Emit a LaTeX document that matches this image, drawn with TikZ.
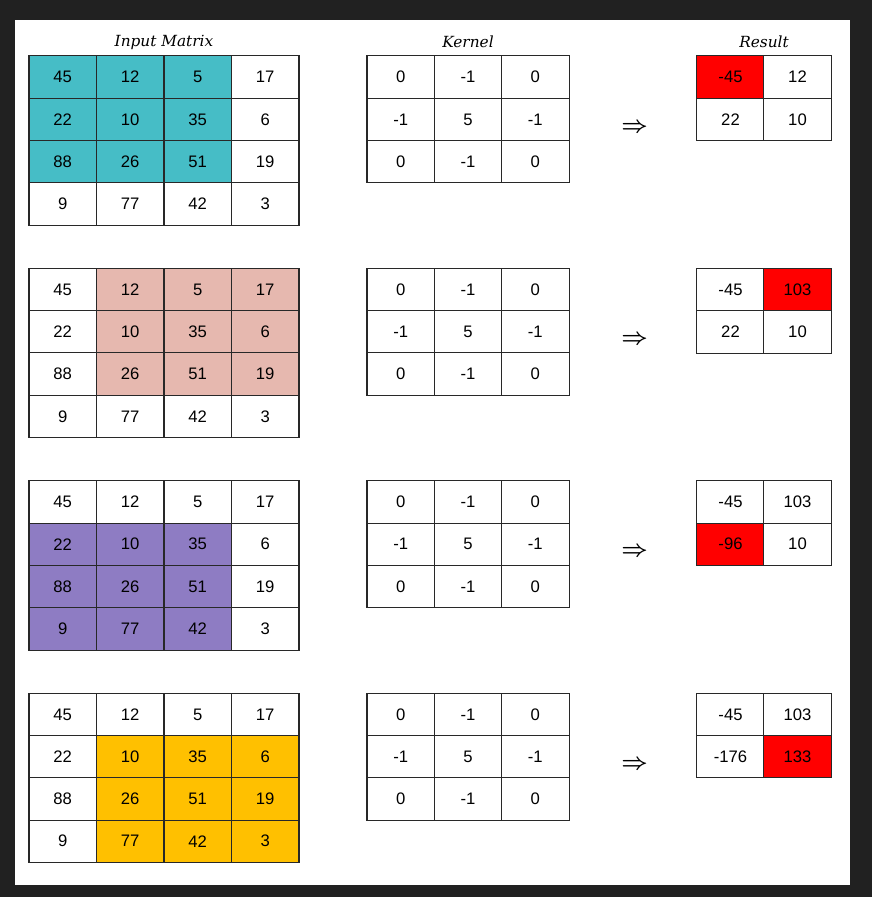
\documentclass[tikz,border=0pt]{standalone}
\usepackage{fontspec}
\setmainfont{DejaVu Serif}
\setsansfont{Liberation Sans}
\usetikzlibrary{positioning}
\definecolor{framebg}{RGB}{33,33,33}
\definecolor{gridline}{RGB}{40,40,40}
\definecolor{tealwin}{RGB}{70,189,198}
\definecolor{pinkwin}{RGB}{230,184,175}
\definecolor{purplewin}{RGB}{142,124,195}
\definecolor{amberwin}{RGB}{255,192,0}
\definecolor{hitred}{RGB}{255,0,0}

\begin{document}
\begin{tikzpicture}[
  x=0.75pt, y=-0.75pt,
  cell/.style={draw=gridline, line width=0.8pt, minimum width=50.6pt,
               minimum height=31.8pt, inner sep=0pt, anchor=center,
               font=\sffamily\fontsize{12.5}{14}\selectfont},
  title/.style={font=\itshape\fontsize{11.5}{13}\selectfont},
  implies/.style={font=\fontsize{18.5}{20}\selectfont\boldmath}
]
% frame and page
\fill[framebg] (0,0) rectangle (872,897);
\fill[white] (15,20) rectangle (850,885);
\useasboundingbox (0,0) rectangle (872,897);

% column titles
\node[title] (t-in)  at (164,42) {Input Matrix};
\node[title] (t-ker) at (468,42) {Kernel};
\node[title] (t-res) at (764,42) {Result};

% one row of the figure per step of the window
\foreach \b/\fc/\ro/\co/\res in {0/tealwin/0/0/{-45,12,22,10},
                                 1/pinkwin/0/1/{-45,103,22,10},
                                 2/purplewin/1/0/{-45,103,-96,10},
                                 3/amberwin/1/1/{-45,103,-176,133}} {
  \pgfmathsetmacro\top{56+212.4*\b}
  % input matrix with the window filled
  \foreach \v [count=\i from 0] in {45,12,5,17,22,10,35,6,88,26,51,19,9,77,42,3} {
    \pgfmathtruncatemacro\r{div(\i,4)}
    \pgfmathtruncatemacro\c{mod(\i,4)}
    \pgfmathtruncatemacro\hit{and(and(\r>=\ro,\r<\ro+3),and(\c>=\co,\c<\co+3))}
    \ifnum\hit=1 \def\cellfill{\fc}\else\def\cellfill{white}\fi
    \node[cell, fill=\cellfill] (in-\b-\i) at (62.75+67.5*\c, \top+42.3*\r+21.15) {\v};
  }
  % kernel
  \foreach \v [count=\i from 0] in {0,-1,0,-1,5,-1,0,-1,0} {
    \pgfmathtruncatemacro\r{div(\i,3)}
    \pgfmathtruncatemacro\c{mod(\i,3)}
    \node[cell, fill=white] (ker-\b-\i) at (400.7+67.3*\c, \top+42.3*\r+21.15) {\v};
  }
  \node[implies] (arr-\b) at (634.5,\top+71.5) {$\Rightarrow$};
  % result, current entry in red
  \foreach \v [count=\i from 0] in \res {
    \pgfmathtruncatemacro\r{div(\i,2)}
    \pgfmathtruncatemacro\c{mod(\i,2)}
    \ifnum\i=\b \def\cellfill{hitred}\else\def\cellfill{white}\fi
    \node[cell, fill=\cellfill] (res-\b-\i) at (730.5+67*\c, \top+42.3*\r+21.15) {\v};
  }
}
\end{tikzpicture}
\end{document}
